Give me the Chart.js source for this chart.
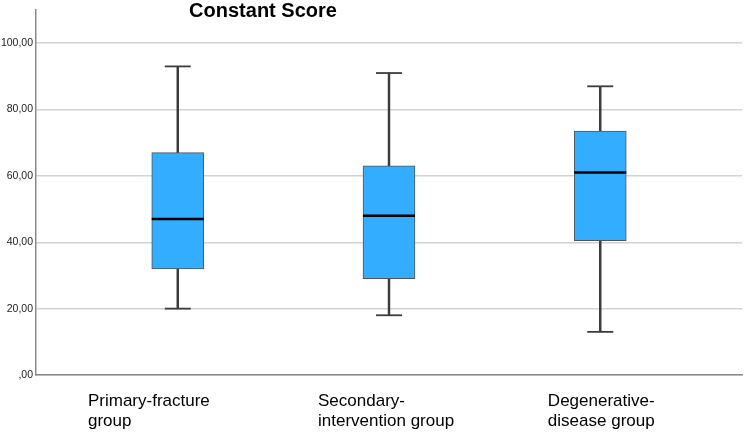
<!DOCTYPE html>
<html lang="en">
<head>
    <meta charset="UTF-8">
    <title>Constant Score</title>
    <script src="https://cdn.jsdelivr.net/npm/chart.js"></script>
    <style>
        body { margin: 0; background: #fff; }
        #wrap { width: 744px; height: 432px; }
    </style>
</head>
<body>
<div id="wrap"><canvas id="boxChart"></canvas></div>
<script>
    // Box plot values
    const groups = [['Primary-fracture', 'group'], ['Secondary-', 'intervention group'], ['Degenerative-', 'disease group']];
    const mins    = [20, 18, 13];
    const q1s     = [32, 29, 40.5];
    const medians = [47, 48, 61];
    const q3s     = [67, 63, 73.5];
    const maxs    = [93, 91, 87];
    const yTicks  = [0, 20, 40, 60, 80, 100];

    // where each label block starts (x units, group i sits at x = i)
    const labelStart = [-0.425, 0.664, 1.752];

    const boxData = groups.map((g, i) => ({ x: i, y: [q1s[i], q3s[i]] }));
    const whiskerData = groups.map((g, i) => ({ x: i, y: [mins[i], maxs[i]] }));
    const medianData = groups.map((g, i) => ({ x: i, y: medians[i] }));
    const capData = groups.flatMap((g, i) => [{ x: i, y: mins[i] }, { x: i, y: maxs[i] }]);

    const titlePlugin = {
        id: 'topTitle',
        afterDraw(chart) {
            const c = chart.ctx;
            c.save();
            c.font = 'bold 20px "Liberation Sans", Arial, sans-serif';
            c.fillStyle = '#000';
            c.textAlign = 'center';
            c.textBaseline = 'middle';
            c.fillText('Constant Score', 263, 11);
            c.restore();
        }
    };

    new Chart(document.getElementById('boxChart'), {
        type: 'bar',
        data: {
            datasets: [
                {
                    type: 'line', data: medianData, showLine: false, order: 0,
                    pointStyle: 'line', pointRadius: 26, pointHoverRadius: 26,
                    borderColor: '#000', borderWidth: 2.5
                },
                {
                    data: boxData, order: 1, grouped: false, barThickness: 52,
                    backgroundColor: '#33adff', borderColor: '#555', borderWidth: 1, borderSkipped: false
                },
                {
                    data: whiskerData, order: 2, grouped: false, barThickness: 1.8,
                    backgroundColor: '#3c3c3c', borderWidth: 0
                },
                {
                    type: 'line', data: capData, showLine: false, order: 2,
                    pointStyle: 'line', pointRadius: 13, pointHoverRadius: 13,
                    borderColor: '#3c3c3c', borderWidth: 1.8
                }
            ]
        },
        options: {
            responsive: true,
            maintainAspectRatio: false,
            animation: false,
            layout: { autoPadding: false, padding: { top: 10, right: 2, left: 0, bottom: 0 } },
            plugins: { legend: { display: false }, tooltip: { enabled: false } },
            scales: {
                x: {
                    type: 'linear',
                    offset: false,
                    min: -0.671,
                    max: 2.671,
                    grid: { display: false, drawTicks: false },
                    border: { display: true, color: '#8a8a8a', width: 1.5 },
                    afterBuildTicks: s => { s.ticks = labelStart.map(v => ({ value: v })); },
                    afterFit: s => { s.height = 57; },
                    ticks: {
                        align: 'start',
                        autoSkip: false,
                        maxRotation: 0,
                        padding: 17,
                        color: '#000',
                        font: { family: '"Liberation Sans", Arial, sans-serif', size: 17, lineHeight: 1.15 },
                        callback: (v, i) => groups[i]
                    }
                },
                y: {
                    min: 0,
                    max: 110,
                    grid: { color: '#d2d2d2', lineWidth: 1.5, drawTicks: false },
                    border: { display: true, color: '#8a8a8a', width: 1.5 },
                    afterBuildTicks: s => { s.ticks = yTicks.map(v => ({ value: v })); },
                    afterFit: s => { s.width = 36; },
                    ticks: {
                        padding: 3,
                        color: '#222',
                        font: { family: '"Liberation Sans", Arial, sans-serif', size: 10.5 },
                        callback: v => v === 0 ? ',00' : v.toFixed(2).replace('.', ',')
                    }
                }
            }
        },
        plugins: [titlePlugin]
    });
</script>
</body>
</html>
